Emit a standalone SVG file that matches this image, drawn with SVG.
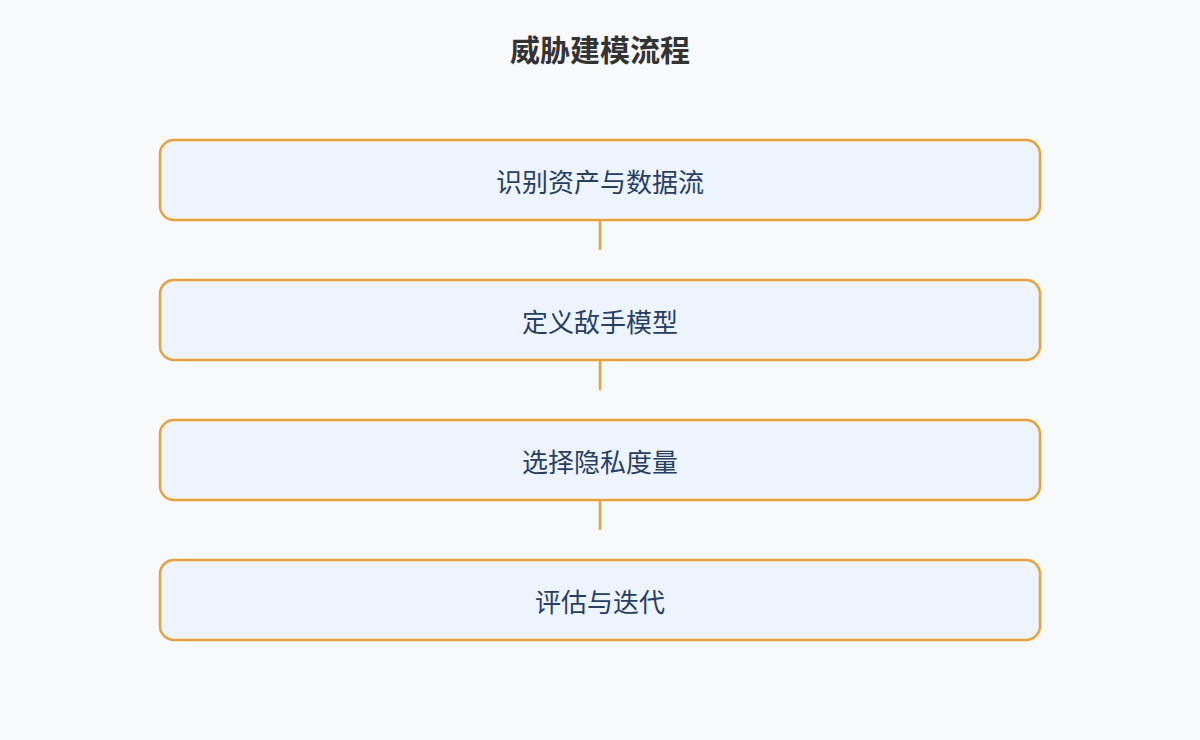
<svg xmlns="http://www.w3.org/2000/svg" width="1200" height="740" viewBox="0 0 1200 740">
<style>
.node rect{fill:#EDF4FD;stroke:#E9A23B;stroke-width:2.5}
.node text{font-family:"Noto Sans CJK SC","Noto Sans",sans-serif;font-size:26px;fill:#273F66;text-anchor:middle;dominant-baseline:central}
.title{font-family:"Noto Sans CJK SC","Noto Sans",sans-serif;font-size:30px;font-weight:bold;fill:#333333;text-anchor:middle;dominant-baseline:central}
.conn line{stroke:#E9A23B;stroke-width:2.5}
</style>
<rect width="1200" height="740" fill="#F7F9FB"/>
<text class="title" x="600" y="48">威胁建模流程</text>
<g class="conn">
<line x1="600" y1="220" x2="600" y2="250"/>
<line x1="600" y1="360" x2="600" y2="390"/>
<line x1="600" y1="500" x2="600" y2="530"/>
</g>
<g id="n1" class="node"><rect x="160" y="140" width="880" height="80" rx="14"/><text x="600" y="180">识别资产与数据流</text></g>
<g id="n2" class="node"><rect x="160" y="280" width="880" height="80" rx="14"/><text x="600" y="320">定义敌手模型</text></g>
<g id="n3" class="node"><rect x="160" y="420" width="880" height="80" rx="14"/><text x="600" y="460">选择隐私度量</text></g>
<g id="n4" class="node"><rect x="160" y="560" width="880" height="80" rx="14"/><text x="600" y="600">评估与迭代</text></g>
</svg>
